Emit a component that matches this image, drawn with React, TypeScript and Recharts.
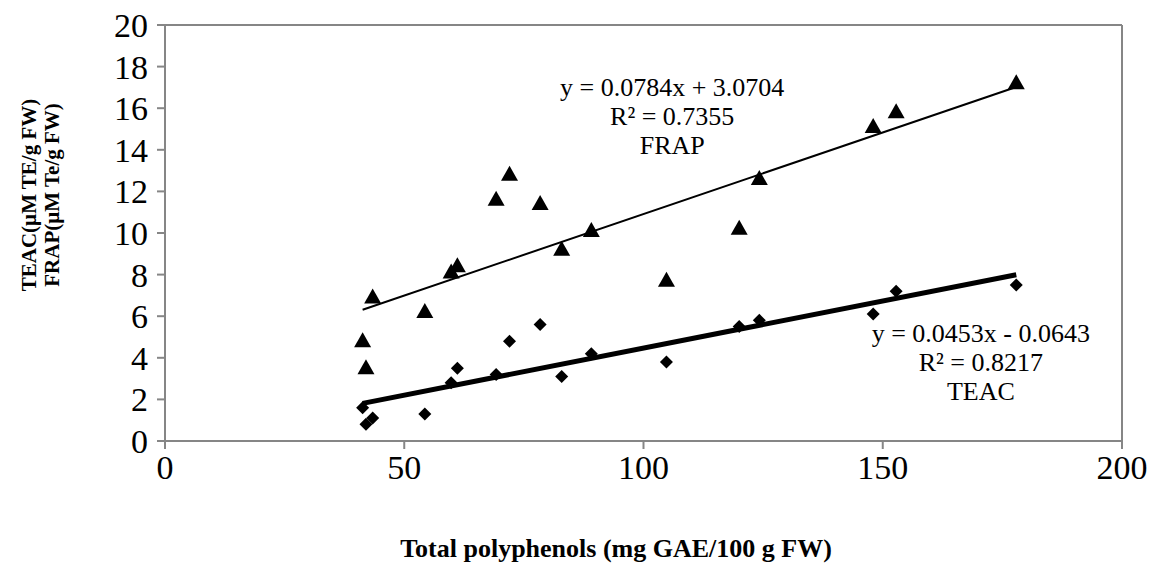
import React from 'react';
import {
  ScatterChart,
  Scatter,
  XAxis,
  YAxis,
  ReferenceLine,
  ReferenceDot,
} from 'recharts';

// total polyphenols (mg GAE/100 g FW)
const polyphenols = [41.3, 42.0, 43.4, 54.3, 59.8, 61.1, 69.2, 72.0, 78.4, 82.9, 89.1, 104.8, 120.0, 124.2, 148.0, 152.8, 177.9];
const frapValues = [4.8, 3.5, 6.9, 6.2, 8.1, 8.4, 11.6, 12.8, 11.4, 9.2, 10.1, 7.7, 10.2, 12.6, 15.1, 15.8, 17.2];
const teacValues = [1.6, 0.8, 1.1, 1.3, 2.8, 3.5, 3.2, 4.8, 5.6, 3.1, 4.2, 3.8, 5.5, 5.8, 6.1, 7.2, 7.5];

const xTicks = [0, 50, 100, 150, 200];
const yTicks = [0, 2, 4, 6, 8, 10, 12, 14, 16, 18, 20];

// trend line ends, from the fitted equations shown on the chart
const frapTrend = [{ x: 41.3, y: 6.31 }, { x: 177.9, y: 17.02 }];
const teacTrend = [{ x: 41.3, y: 1.81 }, { x: 177.9, y: 7.99 }];

const frapData = polyphenols.map((x, i) => ({ x, y: frapValues[i] }));
const teacData = polyphenols.map((x, i) => ({ x, y: teacValues[i] }));

const FONT = '"Liberation Serif", "Times New Roman", serif';
const AXIS = '#868686';

const Triangle = (props: any) => {
  const { cx, cy } = props;
  return <polygon points={`${cx},${cy - 9} ${cx + 8.5},${cy + 6} ${cx - 8.5},${cy + 6}`} fill="#000" />;
};

const Diamond = (props: any) => {
  const { cx, cy } = props;
  return <polygon points={`${cx},${cy - 6.5} ${cx + 6.5},${cy} ${cx},${cy + 6.5} ${cx - 6.5},${cy}`} fill="#000" />;
};

const note = (lines: string[]) => (props: any) => {
  const { viewBox } = props;
  const cx = viewBox.x + (viewBox.width || 0) / 2;
  const cy = viewBox.y + (viewBox.height || 0) / 2;
  return (
    <text x={cx} y={cy} textAnchor="middle" fontFamily={FONT} fontSize={26} fill="#000">
      {lines.map((l, i) => (
        <tspan key={i} x={cx} dy={i === 0 ? 9 : 29}>{l}</tspan>
      ))}
    </text>
  );
};

const YLabel = () => (
  <g fontFamily={FONT} fontSize={21} fontWeight="bold" fill="#000">
    <text x={29} y={195} transform="rotate(-90 29 195)" textAnchor="middle" dominantBaseline="central">
      TEAC(µM TE/g FW)
    </text>
    <text x={52} y={195} transform="rotate(-90 52 195)" textAnchor="middle" dominantBaseline="central">
      FRAP(µM Te/g FW)
    </text>
  </g>
);

const XLabel = () => (
  <text x={616} y={557} textAnchor="middle" fontFamily={FONT} fontSize={26} fontWeight="bold" fill="#000">
    Total polyphenols (mg GAE/100 g FW)
  </text>
);

export default function App() {
  return (
    <div style={{ position: 'absolute', left: 0, top: 0, width: 1150, height: 565, background: '#fff' }}>
      <ScatterChart width={1150} height={565} margin={{ top: 25, right: 28, left: 0, bottom: 0 }}>
        <XAxis
          type="number"
          dataKey="x"
          domain={[0, 200]}
          ticks={xTicks}
          height={124}
          stroke={AXIS}
          strokeWidth={2}
          tickSize={8}
          tickMargin={6}
          tick={{ fill: '#000', fontSize: 34, fontFamily: FONT }}
          label={{ content: () => <XLabel /> }}
        />
        <YAxis
          type="number"
          dataKey="y"
          domain={[0, 20]}
          ticks={yTicks}
          width={165}
          stroke={AXIS}
          strokeWidth={2}
          tickSize={8}
          tickMargin={9}
          interval={0}
          tick={{ fill: '#000', fontSize: 34, fontFamily: FONT }}
          label={{ content: () => <YLabel /> }}
        />
        <ReferenceLine y={20} stroke={AXIS} strokeWidth={2} />
        <ReferenceLine x={200} stroke={AXIS} strokeWidth={2} />
        <ReferenceLine segment={frapTrend} stroke="#000" strokeWidth={2} />
        <ReferenceLine segment={teacTrend} stroke="#000" strokeWidth={5} />
        <Scatter data={frapData} shape={<Triangle />} isAnimationActive={false} />
        <Scatter data={teacData} shape={<Diamond />} isAnimationActive={false} />
        <ReferenceDot x={106} y={17.0} r={0} stroke="none" label={{ content: note(['y = 0.0784x + 3.0704', 'R² = 0.7355', 'FRAP']) }} />
        <ReferenceDot x={170.5} y={5.2} r={0} stroke="none" label={{ content: note(['y = 0.0453x - 0.0643', 'R² = 0.8217', 'TEAC']) }} />
      </ScatterChart>
    </div>
  );
}
